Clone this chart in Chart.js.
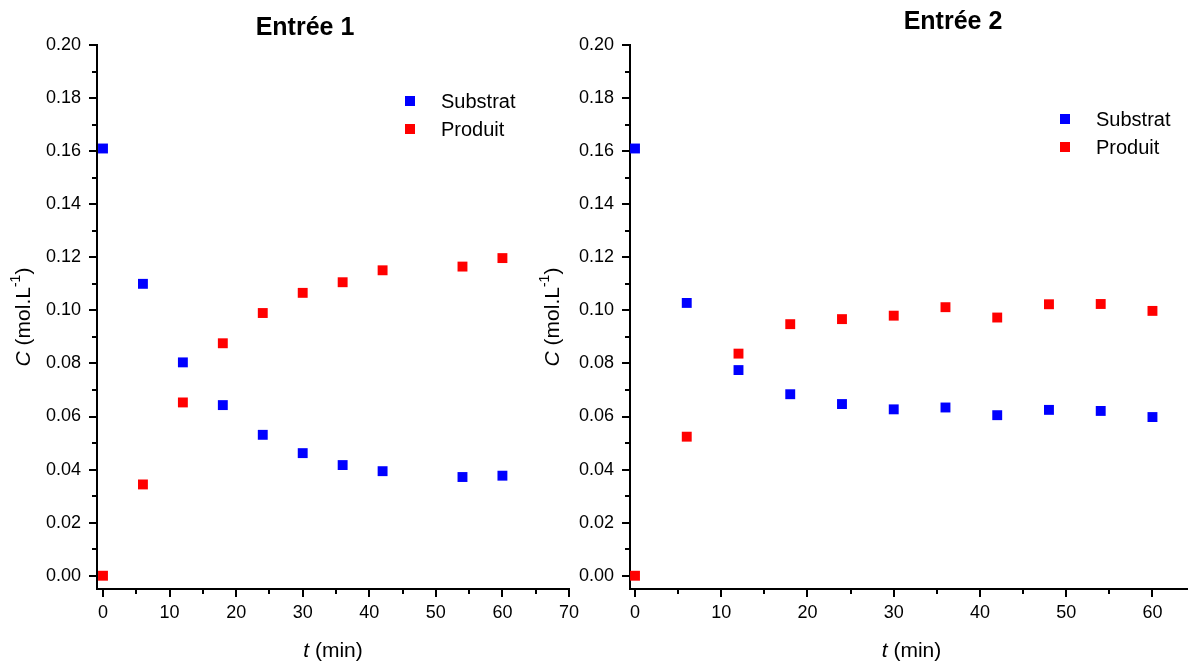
<!DOCTYPE html>
<html>
<head>
<meta charset="utf-8">
<script src="https://cdn.jsdelivr.net/npm/chart.js@4/dist/chart.umd.min.js"></script>
<style>
	html, body { margin: 0; padding: 0; background: #fff; overflow: hidden; }
	body { width: 1188px; height: 666px; position: relative; }
	.chart--box { position: absolute; top: 0; height: 666px; }
	#box1 { left: 0; width: 600px; }
	#box2 { left: 500px; width: 700px; }
</style>
</head>
<body>
<div class="chart--box" id="box1"><canvas id="chart1"></canvas></div>
<div class="chart--box" id="box2"><canvas id="chart2"></canvas></div>
<script>
// Entrée 1
const timesA = [0, 6, 12, 18, 24, 30, 36, 42, 54, 60];
const substratA = [0.161, 0.110, 0.0804, 0.0643, 0.0531, 0.0462, 0.0417, 0.0394, 0.0372, 0.0377];
const produitA = [0.0, 0.0344, 0.0653, 0.0876, 0.0990, 0.1066, 0.1106, 0.1151, 0.1165, 0.1197];

// Entrée 2
const timesB = [0, 6, 12, 18, 24, 30, 36, 42, 48, 54, 60];
const substratB = [0.161, 0.1028, 0.0775, 0.0684, 0.0647, 0.0627, 0.0634, 0.0605, 0.0625, 0.0621, 0.0598];
const produitB = [0.0, 0.0524, 0.0837, 0.0948, 0.0967, 0.0980, 0.1012, 0.0973, 0.1023, 0.1024, 0.0998];

// ticks
const yTicks = [0, 0.02, 0.04, 0.06, 0.08, 0.10, 0.12, 0.14, 0.16, 0.18, 0.20];
const yMinor = [0.01, 0.03, 0.05, 0.07, 0.09, 0.11, 0.13, 0.15, 0.17, 0.19];
const xTicksA = [0, 10, 20, 30, 40, 50, 60, 70];
const xTicksB = [0, 10, 20, 30, 40, 50, 60];
const xMinor = [5, 15, 25, 35, 45, 55, 65];

const seriesNames = ['Substrat', 'Produit'];
const seriesColors = ['#0000ff', '#ff0000'];

(function () {
	'use strict';

	const FONT = "'Liberation Sans', Arial, sans-serif";

	function points(xs, ys) {
		return xs.map(function(x, i) { return { x: x, y: ys[i] }; });
	}

	// draws titles, legend, axis titles and minor ticks
	const decor = {
		id: 'decor',
		afterDraw(chart, args, opts) {
			const ctx = chart.ctx;
			const area = chart.chartArea;
			const sx = chart.scales.x;
			const sy = chart.scales.y;
			ctx.save();

			// minor ticks
			ctx.strokeStyle = '#000';
			ctx.lineWidth = 2;
			xMinor.forEach(function(v) {
				const px = Math.round(sx.getPixelForValue(v));
				if (px > area.right + 1) return;
				ctx.beginPath();
				ctx.moveTo(px, area.bottom);
				ctx.lineTo(px, area.bottom + 5);
				ctx.stroke();
			});
			yMinor.forEach(function(v) {
				const py = Math.round(sy.getPixelForValue(v));
				ctx.beginPath();
				ctx.moveTo(area.left, py);
				ctx.lineTo(area.left - 5, py);
				ctx.stroke();
			});

			ctx.fillStyle = '#000';

			// title
			ctx.font = 'bold 25px ' + FONT;
			ctx.textAlign = 'center';
			ctx.textBaseline = 'middle';
			ctx.fillText(opts.title, opts.titleX, opts.titleY);

			// legend
			ctx.font = '20px ' + FONT;
			ctx.textAlign = 'left';
			seriesNames.forEach(function(name, i) {
				const y = opts.legendY + i * opts.legendGap;
				ctx.fillStyle = seriesColors[i];
				ctx.fillRect(opts.legendX - 5, y - 5, 10, 10);
				ctx.fillStyle = '#000';
				ctx.fillText(name, opts.legendX + 31, y + 1);
			});

			// x axis title: t (min)
			const xt = (area.left + area.right) / 2;
			ctx.font = 'italic 21px ' + FONT;
			const wT = ctx.measureText('t').width;
			ctx.font = '21px ' + FONT;
			const wRest = ctx.measureText(' (min)').width;
			const x0 = xt - (wT + wRest) / 2;
			ctx.textAlign = 'left';
			ctx.font = 'italic 21px ' + FONT;
			ctx.fillText('t', x0, 651);
			ctx.font = '21px ' + FONT;
			ctx.fillText(' (min)', x0 + wT, 651);

			// y axis title: C (mol.L-1)
			ctx.translate(opts.yTitleX, (area.top + area.bottom) / 2);
			ctx.rotate(-Math.PI / 2);
			const parts = [
				{ t: 'C', f: 'italic 21px ' + FONT, dy: 0 },
				{ t: ' (mol.L', f: '21px ' + FONT, dy: 0 },
				{ t: '-1', f: '14px ' + FONT, dy: -8 },
				{ t: ')', f: '21px ' + FONT, dy: 0 }
			];
			let total = 0;
			parts.forEach(function(p) { ctx.font = p.f; p.w = ctx.measureText(p.t).width; total += p.w; });
			let px = -total / 2;
			parts.forEach(function(p) {
				ctx.font = p.f;
				ctx.fillText(p.t, px, p.dy);
				px += p.w;
			});

			ctx.restore();
		}
	};

	function makeChart(id, times, sub, prod, xMin, xMax, xTicks, yWidth, padRight, decorOpts) {
		return new Chart(document.getElementById(id), {
			type: 'scatter',
			data: {
				datasets: [
					{ label: seriesNames[0], data: points(times, sub), backgroundColor: seriesColors[0] },
					{ label: seriesNames[1], data: points(times, prod), backgroundColor: seriesColors[1] }
				]
			},
			options: {
				animation: false,
				responsive: true,
				maintainAspectRatio: false,
				clip: false,
				layout: { padding: { top: 45, right: padRight, bottom: 0, left: 0 } },
				elements: {
					point: { pointStyle: 'rect', radius: 7, borderWidth: 0, hoverRadius: 7 }
				},
				plugins: {
					legend: { display: false },
					tooltip: { enabled: false },
					decor: decorOpts
				},
				scales: {
					x: {
						type: 'linear',
						min: xMin,
						max: xMax,
						afterBuildTicks: function(axis) { axis.ticks = xTicks.map(function(v) { return { value: v }; }); },
						afterFit: function(axis) { axis.height = 77; },
						border: { display: true, color: '#000', width: 2 },
						grid: { display: true, drawOnChartArea: false, drawTicks: true, tickLength: 8, color: '#000', lineWidth: 2 },
						ticks: {
							color: '#000',
							padding: 5,
							maxRotation: 0,
							font: { family: FONT, size: 18 },
							callback: function(v) { return String(v); }
						}
					},
					y: {
						type: 'linear',
						min: -0.005,
						max: 0.2,
						afterBuildTicks: function(axis) { axis.ticks = yTicks.map(function(v) { return { value: v }; }); },
						afterFit: function(axis) { axis.width = yWidth; },
						border: { display: true, color: '#000', width: 2 },
						grid: { display: true, drawOnChartArea: false, drawTicks: true, tickLength: 8, color: '#000', lineWidth: 2 },
						ticks: {
							color: '#000',
							padding: 8,
							font: { family: FONT, size: 18 },
							callback: function(v) { return Number(v).toFixed(2); }
						}
					}
				}
			},
			plugins: [decor]
		});
	}

	makeChart('chart1', timesA, substratA, produitA, -0.9, 70, xTicksA, 97, 31, {
		title: 'Entrée 1', titleX: 305, titleY: 28,
		legendX: 410, legendY: 101, legendGap: 28,
		yTitleX: 24
	});

	makeChart('chart2', timesB, substratB, produitB, -0.58, 64.7, xTicksB, 130, 4, {
		title: 'Entrée 2', titleX: 453, titleY: 22,
		legendX: 565, legendY: 119, legendGap: 28,
		yTitleX: 53
	});
})();
</script>
</body>
</html>
